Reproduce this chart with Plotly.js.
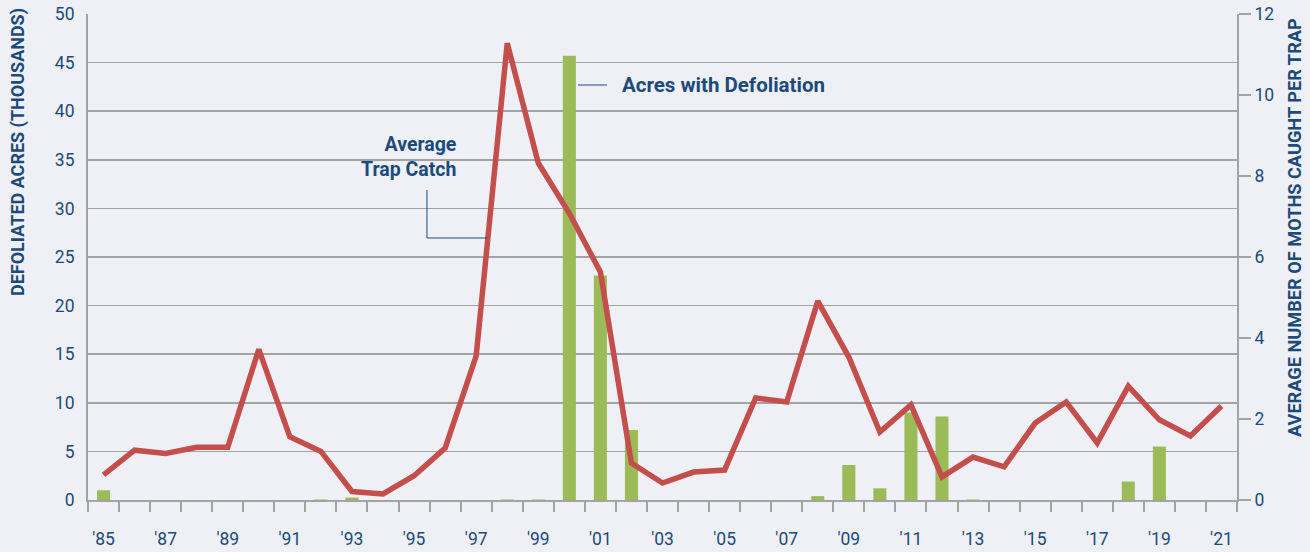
<!DOCTYPE html>
<html>
<head>
<meta charset="utf-8">
<script src="https://cdn.plot.ly/plotly-3.0.1.min.js"></script>
<style>html,body{margin:0;padding:0;background:#eef0f5;}#chart{width:1310px;height:552px;}</style>
</head>
<body>
<div id="chart"></div>
<script>
const years = [1985,1986,1987,1988,1989,1990,1991,1992,1993,1994,1995,1996,1997,1998,1999,2000,2001,2002,2003,2004,2005,2006,2007,2008,2009,2010,2011,2012,2013,2014,2015,2016,2017,2018,2019,2020,2021];
// Defoliated acres (thousands), left axis
const acres = [1.0,0,0,0,0,0,0,0.05,0.25,0,0,0,0,0.05,0.05,45.7,23.1,7.2,0,0,0,0,0,0.4,3.6,1.2,9.0,8.6,0.05,0,0,0,0,1.9,5.5,0,0];
// Average moths caught per trap, right axis
const trapCatch = [0.62,1.23,1.15,1.30,1.30,3.72,1.56,1.20,0.21,0.15,0.60,1.28,3.56,11.28,8.32,7.08,5.63,0.91,0.42,0.69,0.74,2.52,2.42,4.91,3.53,1.68,2.35,0.57,1.06,0.82,1.90,2.42,1.41,2.81,1.98,1.58,2.32];
const tickYears = [1985,1987,1989,1991,1993,1995,1997,1999,2001,2003,2005,2007,2009,2011,2013,2015,2017,2019,2021];
const tickLabels = ["'85","'87","'89","'91","'93","'95","'97","'99","'01","'03","'05","'07","'09","'11","'13","'15","'17","'19","'21"];
const leftTitle = 'DEFOLIATED ACRES (THOUSANDS)';
const rightTitle = 'AVERAGE NUMBER OF MOTHS CAUGHT PER TRAP';

const navy = '#1c4a7a';
const grid = '#a3a3a3';
const font = 'Roboto, "Open Sans", sans-serif';

const traces = [
  {type:'bar', x:years, y:acres, name:'Acres with Defoliation', marker:{color:'#9bbb59'}, width:0.42, yaxis:'y', hoverinfo:'x+y'},
  {type:'scatter', mode:'lines', x:years, y:trapCatch, name:'Average Trap Catch', line:{color:'#c44e4b', width:5.5}, yaxis:'y2'}
];

const layout = {
  width:1310, height:552,
  paper_bgcolor:'#eef0f5', plot_bgcolor:'#eef0f5',
  margin:{l:88, r:73, t:14, b:52},
  showlegend:false,
  font:{family:font, color:navy, size:17},
  xaxis:{
    range:[1984.5,2021.5], tickvals:tickYears, ticktext:tickLabels,
    ticks:'outside', ticklen:0, tickcolor:grid, ticklabelstandoff:22,
    showgrid:false, zeroline:false, showline:true, linecolor:grid, linewidth:2,
    tickfont:{size:17.5, color:navy},
    minor:{ticks:'outside', tick0:1984.5, dtick:1, ticklen:10, tickcolor:grid, tickwidth:2, showgrid:false}
  },
  yaxis:{
    range:[0,50], dtick:5, showgrid:true, gridcolor:grid, gridwidth:1.5,
    zeroline:false, showline:true, linecolor:grid, linewidth:2, ticks:'', ticklabelstandoff:8,
    tickfont:{size:17.5, color:navy}
  },
  yaxis2:{
    range:[0,12], dtick:2, overlaying:'y', side:'right', showgrid:false, zeroline:false,
    showline:true, linecolor:grid, linewidth:2, ticks:'outside', ticklen:12, tickcolor:grid, tickwidth:2,
    tickfont:{size:17.5, color:navy}
  },
  annotations:[
    {xref:'paper', yref:'paper', x:-0.0609, y:0.716, xanchor:'center', yanchor:'middle', textangle:-90, showarrow:false,
     text:leftTitle, font:{size:18, color:navy, family:font, weight:'bold'}},
    {xref:'paper', yref:'paper', x:1.0505, y:0.5597, xanchor:'center', yanchor:'middle', textangle:-90, showarrow:false,
     text:rightTitle, font:{size:18.2, color:navy, family:font, weight:'bold'}},
    {xref:'paper', yref:'paper', x:0.463, y:0.8539, xanchor:'left', yanchor:'middle', showarrow:false,
     text:'Acres with Defoliation', font:{size:20.5, color:navy, family:font, weight:'bold'}},
    {xref:'paper', yref:'paper', x:0.3225, y:0.7058, xanchor:'right', yanchor:'middle', align:'right', showarrow:false,
     text:'Average<br>Trap Catch', font:{size:19.5, color:navy, family:font, weight:'bold'}}
  ],
  shapes:[
    {type:'line', xref:'paper', yref:'paper', x0:0.4265, x1:0.4517, y0:0.8539, y1:0.8539, line:{color:navy, width:1}},
    {type:'line', xref:'paper', yref:'paper', x0:0.2950, x1:0.2950, y0:0.6379, y1:0.5391, line:{color:navy, width:1}},
    {type:'line', xref:'paper', yref:'paper', x0:0.2950, x1:0.3473, y0:0.5391, y1:0.5391, line:{color:navy, width:1}}
  ]
};

Plotly.newPlot('chart', traces, layout, {displayModeBar:false, staticPlot:true});
</script>
</body>
</html>
